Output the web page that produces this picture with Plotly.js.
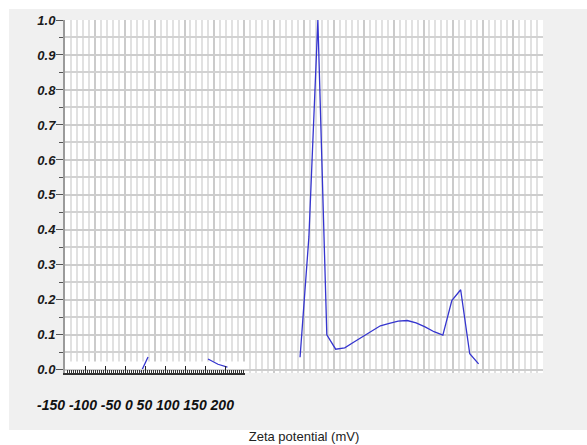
<!DOCTYPE html>
<html>
<head>
<meta charset="utf-8">
<script src="https://cdn.plot.ly/plotly-3.0.1.min.js"></script>
<style>html,body{margin:0;padding:0;background:#fff;}#chart{width:587px;height:445px;}</style>
</head>
<body>
<div id="chart"></div>
<script>
// Zeta potential (mV) and normalised intensity of the main curve
const zeta = [-3.3, 4.1, 11.6, 19.1, 26.5, 34.1, 41.5, 49.0, 56.5, 63.9, 71.4, 78.8, 86.4, 93.8, 101.3, 108.8, 116.2, 123.7, 131.1, 138.7, 146.1];
const intensity = [0.036, 0.38, 1.0, 0.10, 0.059, 0.063, 0.079, 0.094, 0.111, 0.126, 0.133, 0.139, 0.141, 0.134, 0.123, 0.109, 0.099, 0.198, 0.229, 0.046, 0.017];
// stray segments drawn near the bottom-left of the plot
const strayZeta = [-136.4, -130.5, null, -80.3, -72.0, -64.1];
const strayIntensity = [-0.006, 0.037, null, 0.031, 0.016, 0.008];
// tick labels printed under the bottom-left axis
const tickLabels = ['-150', '-100', '-50', '0', '50', '100', '150', '200'];
const xTitle = 'Zeta potential (mV)';

const FONT = 'Arial, "Liberation Sans", sans-serif';
const lineColor = '#3535cf';

const traces = [
  {x: zeta, y: intensity, type: 'scatter', mode: 'lines', line: {color: lineColor, width: 1.3}, hoverinfo: 'skip', showlegend: false},
  // empty trace so that the short bottom-left tick axis is drawn
  {x: [null], y: [null], xaxis: 'x2', yaxis: 'y', type: 'scatter', mode: 'lines', hoverinfo: 'skip', showlegend: false},
  {x: strayZeta, y: strayIntensity, type: 'scatter', mode: 'lines', line: {color: lineColor, width: 1.3}, connectgaps: false, hoverinfo: 'skip', showlegend: false, cliponaxis: false}
];

const layout = {
  width: 587, height: 445,
  margin: {l: 65, r: 44, t: 20, b: 72},
  paper_bgcolor: '#ffffff',
  plot_bgcolor: 'rgba(0,0,0,0)',
  showlegend: false,
  xaxis: {
    range: [-200, 200], dtick: 25, tick0: -200,
    showticklabels: false, ticks: '',
    showgrid: true, gridcolor: '#cbcbcb', gridwidth: 2,
    minor: {dtick: 5, showgrid: true, gridcolor: '#e1e1e1', gridwidth: 2},
    zeroline: false, showline: false, automargin: false,
    title: {text: xTitle, font: {family: FONT, size: 13, color: '#222'}, standoff: 58}
  },
  xaxis2: {
    domain: [0, 0.3766], anchor: 'y', range: [0, 180],
    dtick: 20, tick0: 0, ticks: 'inside', ticklen: 7, tickwidth: 1, tickcolor: '#222',
    minor: {dtick: 2, ticks: 'inside', ticklen: 3, tickcolor: '#333', tickwidth: 1, showgrid: false},
    showticklabels: false, showgrid: false, zeroline: false,
    showline: true, linecolor: '#333', linewidth: 2, automargin: false
  },
  yaxis: {
    range: [-0.009, 1.0], dtick: 0.1, tick0: 0, tickformat: '.1f',
    ticks: 'outside', ticklen: 7, tickwidth: 1, tickcolor: '#555',
    ticklabelstandoff: -2,
    tickfont: {family: FONT, size: 13, weight: 'bold', style: 'italic', color: '#1a1a1a'},
    showgrid: true, gridcolor: '#cdcdcd', gridwidth: 2,
    minor: {dtick: 0.05, ticks: 'outside', ticklen: 4, tickcolor: '#555', showgrid: true, gridcolor: '#d2d2d2', gridwidth: 2},
    showline: true, linecolor: '#9a9a9a', linewidth: 2,
    zeroline: false, automargin: false
  },
  shapes: [
    {type: 'rect', xref: 'paper', yref: 'paper', x0: -0.1172, x1: 1.092, y0: -0.1615, y1: 1.0312,
     fillcolor: '#f0f0f0', line: {width: 0}, layer: 'below'},
    {type: 'rect', xref: 'paper', yref: 'paper', x0: 0, x1: 1, y0: 0, y1: 1,
     fillcolor: '#ffffff', line: {width: 0}, layer: 'below'},
    {type: 'rect', xref: 'x', yref: 'y', x0: -200, x1: -49.4, y0: -0.009, y1: 0.024,
     fillcolor: '#ffffff', line: {width: 0}, layer: 'between'}
  ],
  annotations: [
    {xref: 'paper', yref: 'paper', x: 0.1485, y: -0.0907, xanchor: 'center', yanchor: 'middle',
     text: tickLabels.join(' '), showarrow: false,
     font: {family: FONT, size: 14, weight: 'bold', style: 'italic', color: '#111'}}
  ]
};

Plotly.newPlot('chart', traces, layout, {staticPlot: true, displayModeBar: false});
</script>
</body>
</html>
